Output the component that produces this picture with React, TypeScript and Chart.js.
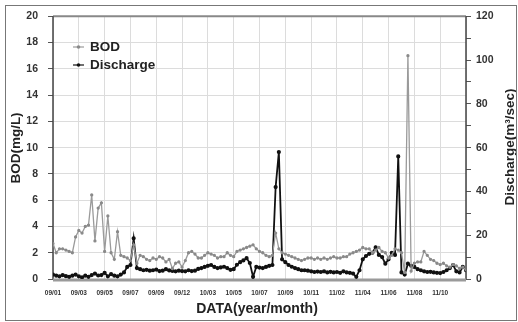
import { useEffect, useRef } from 'react';
import { Chart, registerables } from 'chart.js';

Chart.register(...registerables);

const FONT = '"Liberation Sans", Arial, sans-serif';

const monthLabels = ['09/01', '09/03', '09/05', '09/07', '09/09', '09/12', '10/03', '10/05', '10/07', '10/09', '10/11', '11/02', '11/04', '11/06', '11/08', '11/10'];

const bodValues = [
  2.7, 2.0, 2.3, 2.3, 2.2, 2.1, 2.0, 3.2, 3.7, 3.5, 4.0, 4.1, 6.4, 2.9, 5.4, 5.8, 2.1, 4.8, 2.0, 1.5, 3.6, 1.8, 1.7, 1.6, 1.4,
  2.6, 1.2, 1.8, 1.7, 1.5, 1.4, 1.6, 1.5, 1.7, 1.6, 1.3, 1.5, 0.8, 1.2, 1.3, 0.9, 1.4, 2.0, 2.1, 1.9, 1.6, 1.6, 1.8, 2.0, 1.9,
  1.8, 1.6, 1.7, 1.7, 2.0, 1.8, 1.7, 2.1, 2.2, 2.3, 2.4, 2.5, 2.6, 2.3, 2.1, 2.0, 1.8, 1.7, 1.8, 3.5, 2.3, 2.0, 1.9, 1.8, 1.7,
  1.6, 1.5, 1.4, 1.5, 1.6, 1.6, 1.5, 1.6, 1.5, 1.6, 1.5, 1.6, 1.7, 1.6, 1.6, 1.7, 1.7, 1.9, 2.0, 2.1, 2.2, 2.4, 2.3, 2.3, 2.0,
  2.2, 2.4, 2.1, 2.0, 1.6, 1.8, 2.3, 2.2, 2.0, 0.5, 17.0, 0.6, 1.2, 1.3, 1.3, 2.1, 1.8, 1.5, 1.4, 1.2, 1.1, 1.2, 1.0, 0.9, 1.1, 1.0, 0.8, 0.9, 0.7,
];

const dischargeValues = [
  2, 1.5, 1.2, 1.8, 1.3, 1.0, 1.5, 2.0, 1.2, 0.8, 1.5, 1.0, 1.8, 2.5, 1.6, 1.8, 2.8, 1.2, 2.2, 1.5, 1.2, 2.0, 3.0, 5.5, 6.4,
  18.6, 5.0, 4.5, 4.0, 4.2, 3.8, 4.0, 4.3, 3.6, 3.8, 4.5, 3.9, 3.7, 3.5, 3.8, 3.6, 3.5, 4.0, 3.6, 3.8, 4.6, 5.0, 5.5, 6.0, 6.4,
  5.5, 5.0, 5.3, 5.6, 5.0, 4.2, 4.5, 6.5, 7.7, 8.5, 9.5, 7.3, 1.0, 5.5, 5.2, 5.0, 5.5, 6.0, 6.4, 42, 58, 9.0, 7.7, 6.4, 5.6,
  5.0, 4.5, 4.0, 4.0, 3.8, 3.5, 3.2, 3.4, 3.2, 3.5, 3.0, 3.3, 3.0, 3.2, 2.8, 3.5, 3.0, 2.8, 2.5, 1.0, 4.0, 9.0, 10.5, 11.5, 12.0,
  14.5, 11.0, 10.0, 7.0, 9.0, 12.0, 11.0, 56, 3.0, 2.0, 7.0, 6.0, 5.5, 4.5, 4.0, 3.5, 3.2, 3.3, 3.0, 2.8, 2.7, 3.2, 4.0, 5.0, 6.4, 3.5, 3.0, 5.5, 4.0,
];

const STEPS_PER_LABEL = 8;

const framePlugin = {
  id: 'frame',
  beforeDatasetsDraw(chart: any) {
    const { ctx, chartArea: a } = chart;
    ctx.save();
    ctx.strokeStyle = '#888';
    ctx.lineWidth = 2;
    ctx.beginPath();
    ctx.moveTo(a.left, a.top);
    ctx.lineTo(a.right, a.top);
    ctx.stroke();
    ctx.strokeStyle = '#444';
    ctx.lineWidth = 1.5;
    ctx.beginPath();
    ctx.moveTo(a.left, a.top);
    ctx.lineTo(a.left, a.bottom);
    ctx.moveTo(a.right, a.top);
    ctx.lineTo(a.right, a.bottom);
    ctx.stroke();
    ctx.strokeStyle = '#9a9a9a';
    ctx.lineWidth = 3;
    ctx.beginPath();
    ctx.moveTo(a.left, a.bottom + 1);
    ctx.lineTo(a.right, a.bottom + 1);
    ctx.stroke();
    ctx.restore();
  },
};

const textPlugin = {
  id: 'texts',
  afterDraw(chart: any) {
    const { ctx, chartArea: a } = chart;
    ctx.save();
    ctx.fillStyle = '#222';
    ctx.textAlign = 'center';
    ctx.textBaseline = 'middle';
    ctx.font = `bold 13.5px ${FONT}`;
    ctx.save();
    ctx.translate(16, 148);
    ctx.rotate(-Math.PI / 2);
    ctx.fillText('BOD(mg/L)', 0, 0);
    ctx.restore();
    ctx.save();
    ctx.translate(510, 147);
    ctx.rotate(-Math.PI / 2);
    ctx.fillText('Discharge(m³/sec)', 0, 0);
    ctx.restore();
    ctx.font = `bold 14px ${FONT}`;
    ctx.fillText('DATA(year/month)', 257, 309);

    // legend
    const items = chart.data.datasets;
    items.forEach((ds: any, i: number) => {
      const y = 47 + i * 18;
      const x0 = a.left + 20;
      ctx.strokeStyle = ds.borderColor;
      ctx.lineWidth = 1.2;
      ctx.beginPath();
      ctx.moveTo(x0, y);
      ctx.lineTo(x0 + 11, y);
      ctx.stroke();
      ctx.fillStyle = ds.pointBackgroundColor;
      ctx.beginPath();
      ctx.arc(x0 + 5.5, y, 1.8, 0, Math.PI * 2);
      ctx.fill();
      ctx.fillStyle = '#222';
      ctx.textAlign = 'left';
      ctx.font = `bold 13.5px ${FONT}`;
      ctx.fillText(ds.label, x0 + 17, y);
    });
    ctx.restore();
  },
};

export default function App() {
  const ref = useRef<HTMLCanvasElement>(null);

  useEffect(() => {
    const chart = new Chart(ref.current!, {
      type: 'line',
      data: {
        datasets: [
          {
            label: 'BOD',
            data: bodValues.map((v, i) => ({ x: i, y: v })),
            yAxisID: 'y',
            borderColor: '#9a9a9a',
            backgroundColor: '#9a9a9a',
            pointBackgroundColor: '#8a8a8a',
            pointBorderColor: '#8a8a8a',
            borderWidth: 1.3,
            pointRadius: 1,
            tension: 0,
          },
          {
            label: 'Discharge',
            data: dischargeValues.map((v, i) => ({ x: i, y: v })),
            yAxisID: 'y1',
            borderColor: '#111',
            backgroundColor: '#111',
            pointBackgroundColor: '#111',
            pointBorderColor: '#111',
            borderWidth: 1.8,
            pointRadius: 1.2,
            tension: 0,
          },
        ],
      },
      options: {
        responsive: false,
        animation: false,
        layout: { padding: { left: 5, top: 15, right: 0, bottom: 0 } },
        plugins: { legend: { display: false }, tooltip: { enabled: false } },
        scales: {
          x: {
            type: 'linear',
            min: 0,
            max: (monthLabels.length) * STEPS_PER_LABEL,
            afterFit: (s: any) => { s.height = 43; },
            ticks: {
              stepSize: STEPS_PER_LABEL,
              autoSkip: false,
              maxRotation: 0,
              padding: 10,
              color: '#333',
              font: { family: FONT, size: 6.5, weight: 'bold' },
              callback: (v: any) => monthLabels[Math.round(Number(v) / STEPS_PER_LABEL)] ?? '',
            },
            grid: { color: '#dcdcdc', lineWidth: 1, drawTicks: false },
            border: { display: false },
          },
          y: {
            position: 'left',
            min: 0,
            max: 20,
            afterFit: (s: any) => { s.width = 48; },
            ticks: {
              stepSize: 1,
              padding: 10,
              color: '#333',
              font: { family: FONT, size: 10.5, weight: 'bold' },
              callback: (v: any) => (Number(v) % 2 === 0 ? String(v) : ''),
            },
            grid: {
              color: (c: any) => (c.tick && c.tick.value % 2 === 0 ? '#dcdcdc' : 'rgba(0,0,0,0)'),
              tickColor: '#555',
              tickLength: 5,
            },
            border: { display: false },
          },
          y1: {
            position: 'right',
            min: 0,
            max: 120,
            afterFit: (s: any) => { s.width = 52; },
            ticks: {
              stepSize: 10,
              padding: 5,
              color: '#333',
              font: { family: FONT, size: 10.5, weight: 'bold' },
              callback: (v: any) => (Number(v) % 20 === 0 ? String(v) : ''),
            },
            grid: { drawOnChartArea: false, tickColor: '#555', tickLength: 5 },
            border: { display: false },
          },
        },
      },
      plugins: [framePlugin, textPlugin],
    } as any);
    return () => chart.destroy();
  }, []);

  return (
    <div style={{ position: 'fixed', left: 0, top: 0, width: 518, height: 322, background: '#fff' }}>
      <canvas ref={ref} width={518} height={322} style={{ display: 'block' }} />
      <div
        style={{
          position: 'absolute',
          left: 5,
          top: 5,
          width: 512,
          height: 316,
          border: '1px solid #777',
          boxSizing: 'border-box',
          pointerEvents: 'none',
        }}
      />
    </div>
  );
}
